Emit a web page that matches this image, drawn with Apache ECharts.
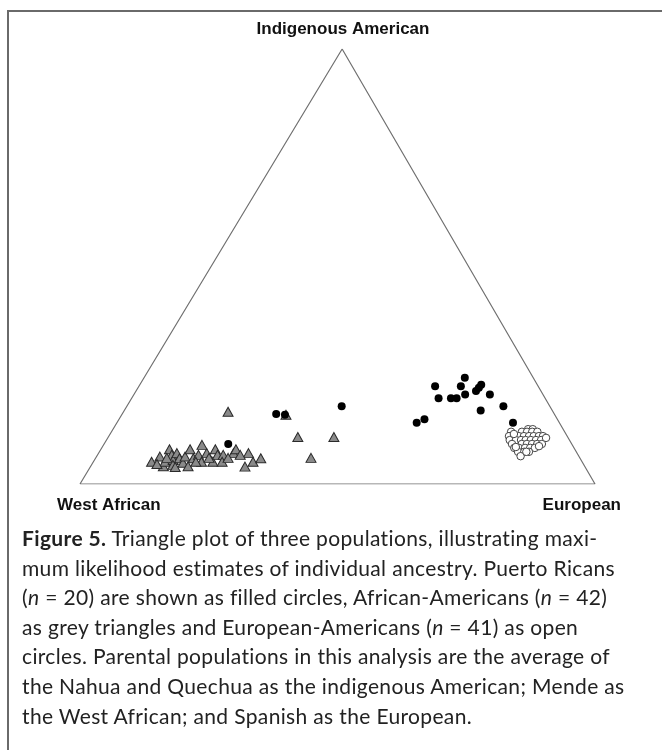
<!DOCTYPE html>
<html><head><meta charset="utf-8">
<script src="https://cdn.jsdelivr.net/npm/echarts@6/dist/echarts.min.js"></script>
<style>
html,body{margin:0;padding:0;background:#fff;}
#chart{position:absolute;left:0;top:0;width:662px;height:750px;}
#frame{position:absolute;left:7px;top:10px;width:660px;height:745px;border-left:2px solid #6a6a6a;border-top:2px solid #6a6a6a;pointer-events:none;}
#caption{position:absolute;left:22px;top:523px;font-family:Lato,'Open Sans',sans-serif;font-size:21px;letter-spacing:0.35px;line-height:29.6px;color:#222;white-space:nowrap;}
#caption b{font-weight:bold;}
</style></head>
<body>
<div id="chart"></div>
<div id="frame"></div>
<div id="caption">
<div><b>Figure 5.</b> Triangle plot of three populations, illustrating maxi-</div>
<div>mum likelihood estimates of individual ancestry. Puerto Ricans</div>
<div>(<i>n</i> = 20) are shown as filled circles, African-Americans (<i>n</i> = 42)</div>
<div>as grey triangles and European-Americans (<i>n</i> = 41) as open</div>
<div>circles. Parental populations in this analysis are the average of</div>
<div>the Nahua and Quechua as the indigenous American; Mende as</div>
<div>the West African; and Spanish as the European.</div>
</div>
<script>
// vertex labels
const vertexLabels = ['West African', 'European', 'Indigenous American'];
// plot-space positions of the three parental vertices
const vertexWA = [0, 0];
const vertexEU = [1, 0];
const vertexIA = [0.509, 1];

// ancestry estimates: [European fraction, Indigenous American fraction]; West African = 1 - both
const puertoRicans = [
  [0.575,0.225],[0.596,0.197],[0.620,0.197],[0.631,0.197],[0.625,0.225],
  [0.623,0.244],[0.643,0.206],[0.660,0.214],[0.663,0.228],[0.662,0.221],
  [0.691,0.206],[0.692,0.169],[0.731,0.179],[0.769,0.141],[0.582,0.141],
  [0.593,0.149],[0.299,0.161],[0.317,0.159],[0.417,0.179],[0.241,0.092]
];
const africanAmericans = [
  [0.203,0.166],[0.319,0.159],[0.368,0.108],[0.438,0.108],[0.418,0.060],
  [0.113,0.051],[0.123,0.063],[0.141,0.041],[0.139,0.051],[0.133,0.080],
  [0.144,0.067],[0.153,0.055],[0.158,0.044],[0.152,0.071],[0.163,0.059],
  [0.175,0.049],[0.172,0.063],[0.173,0.080],[0.190,0.059],[0.196,0.067],
  [0.191,0.090],[0.210,0.051],[0.210,0.071],[0.232,0.051],[0.222,0.080],
  [0.233,0.067],[0.244,0.067],[0.262,0.071],[0.262,0.080],[0.291,0.071],
  [0.300,0.040],[0.310,0.051],[0.321,0.059],[0.126,0.046],[0.138,0.060],
  [0.165,0.039],[0.189,0.041],[0.199,0.051],[0.220,0.060],[0.250,0.051],
  [0.257,0.060],[0.277,0.067]
];
const europeanAmericans = [
  [0.806,0.126],[0.815,0.126],
  [0.776,0.120],[0.797,0.120],[0.807,0.120],[0.817,0.120],[0.827,0.120],
  [0.777,0.110],[0.796,0.110],[0.806,0.110],[0.816,0.110],[0.825,0.110],[0.835,0.110],[0.843,0.110],
  [0.783,0.101],[0.795,0.101],[0.805,0.101],[0.814,0.101],[0.824,0.101],[0.834,0.101],[0.844,0.101],
  [0.792,0.092],[0.811,0.092],[0.821,0.092],[0.831,0.092],[0.841,0.092],[0.850,0.092],
  [0.801,0.083],[0.810,0.083],[0.822,0.083],[0.832,0.083],[0.841,0.083],
  [0.813,0.074],[0.825,0.074],[0.834,0.074],
  [0.823,0.064],
  [0.784,0.115],[0.851,0.106],[0.847,0.087],[0.803,0.085],[0.829,0.074]
];

function toXY(p) {
  const e = p[0], i = p[1], w = 1 - e - i;
  return [
    w * vertexWA[0] + e * vertexEU[0] + i * vertexIA[0],
    w * vertexWA[1] + e * vertexEU[1] + i * vertexIA[1]
  ];
}

const chart = echarts.init(document.getElementById('chart'), null, {renderer: 'canvas'});
const labelFont = 'bold 17px "Liberation Sans", Arial, sans-serif';
chart.setOption({
  animation: false,
  grid: {left: 80, right: 67, top: 49, height: 435},
  xAxis: {type: 'value', min: 0, max: 1, show: false},
  yAxis: {type: 'value', min: 0, max: 1, show: false},
  graphic: [
    {type: 'text', x: 343, y: 29, style: {text: vertexLabels[2], font: labelFont, fill: '#111', align: 'center', verticalAlign: 'middle'}},
    {type: 'text', x: 57, y: 505, style: {text: vertexLabels[0], font: labelFont, fill: '#111', align: 'left', verticalAlign: 'middle'}},
    {type: 'text', x: 621, y: 505, style: {text: vertexLabels[1], font: labelFont, fill: '#111', align: 'right', verticalAlign: 'middle'}}
  ],
  series: [
    {
      type: 'line', silent: true, symbol: 'none',
      data: [vertexWA, vertexEU, vertexIA, vertexWA],
      lineStyle: {color: '#707070', width: 1.2}
    },
    {
      name: 'European-Americans', type: 'scatter', symbol: 'circle', symbolSize: 7.5,
      data: europeanAmericans.map(toXY),
      itemStyle: {color: '#fff', borderColor: '#444', borderWidth: 1, opacity: 1}
    },
    {
      name: 'African-Americans', type: 'scatter', symbol: 'triangle', symbolSize: [10, 9],
      data: africanAmericans.map(toXY),
      itemStyle: {color: '#8a8a8a', borderColor: '#2a2a2a', borderWidth: 1, opacity: 1}
    },
    {
      name: 'Puerto Ricans', type: 'scatter', symbol: 'circle', symbolSize: 8,
      data: puertoRicans.map(toXY),
      itemStyle: {color: '#000', opacity: 1}
    }
  ]
});
</script>
</body></html>
